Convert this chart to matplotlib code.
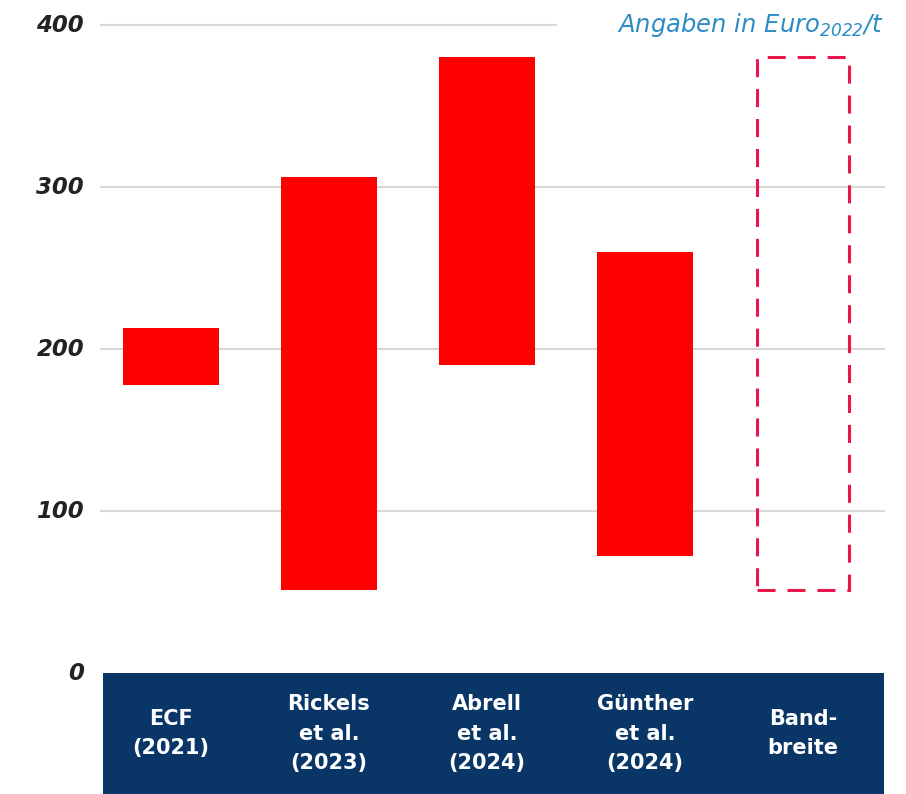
import matplotlib.pyplot as plt
from matplotlib.patches import Rectangle

studies = ['ECF\n(2021)', 'Rickels\net al.\n(2023)', 'Abrell\net al.\n(2024)',
           'Günther\net al.\n(2024)', 'Band-\nbreite']
low = [178, 51, 190, 72]
high = [213, 306, 380, 260]
yticks = [0, 100, 200, 300, 400]

red = '#fe0000'
navy = '#0a3567'

plt.rcParams['font.family'] = ['DejaVu Sans']

fig = plt.figure(figsize=(9.06, 7.94), dpi=100)
W, H = 906, 794
ax = fig.add_axes([103 / W, 1 - 673 / H, 781 / W, 648 / H])

x = list(range(len(studies)))
ax.set_xlim(-0.43, 4.513)
ax.set_ylim(0, 400)

# grid lines
for t in yticks[1:]:
    xend = 0.58 if t == 400 else 1.0
    ax.axhline(t, xmin=-0.003, xmax=xend, color='#d9d9d9', lw=1.5, zorder=0, clip_on=False)

# ranges per study
ax.bar(x[:4], [h - l for l, h in zip(low, high)], bottom=low, width=0.61,
       color=red, zorder=2)

# overall range as dashed box
lo, hi = min(low), max(high)
ax.add_patch(Rectangle((x[4] - 0.29, lo), 0.58, hi - lo, fill=False,
                       edgecolor='#e8174a', lw=2.2, ls=(0, (5.9, 3.9)), zorder=2))

for s in ax.spines.values():
    s.set_visible(False)
ax.set_xticks([])
ax.set_yticks([])
for t in yticks:
    ax.text(-0.55, t, str(t), ha='right', va='center', fontsize=16.5,
            style='italic', fontweight='semibold', color='#222222')

ax.text(4.513, 400, r'Angaben in Euro$_{\mathregular{2022}}$/t', ha='right', va='center',
        fontsize=17.5, style='italic', color='#2c8cc4')

# category band below the plot
band = fig.add_axes([103 / W, 0, 781 / W, 121 / H])
band.set_xlim(-0.43, 4.513)
band.set_ylim(0, 1)
band.set_facecolor(navy)
band.set_xticks([])
band.set_yticks([])
for s in band.spines.values():
    s.set_visible(False)
for xi, lab in zip(x, studies):
    band.text(xi, 0.5, lab, ha='center', va='center', color='white',
              fontsize=15, fontweight='bold', linespacing=1.6)

fig.savefig('out.png', dpi=100, facecolor='white')
